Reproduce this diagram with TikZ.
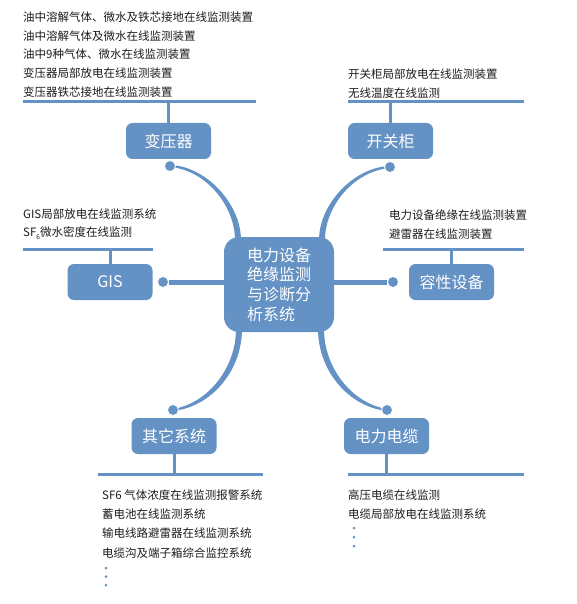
\documentclass[tikz,border=0pt]{standalone}
\usepackage{fontspec}
\setmainfont{Noto Sans CJK SC}
\usetikzlibrary{calc}
\definecolor{bluec}{RGB}{100,146,196}
\definecolor{txt}{RGB}{28,28,28}
\pgfdeclarelayer{background}
\pgfsetlayers{background,main}
\begin{document}
\begin{tikzpicture}[x=1pt,y=-1pt,
  box/.style={fill=bluec, rounded corners=6.5pt, minimum width=85pt, minimum height=36pt,
              text=white, font=\fontsize{16}{19}\selectfont, inner sep=0pt},
  hub/.style={fill=bluec, rounded corners=15pt, minimum width=110pt, minimum height=95pt,
              text=white, font=\fontsize{16}{19.7}\selectfont, align=left, inner sep=0pt},
  item/.style={anchor=west, inner sep=0pt, text=txt, font=\fontsize{11.5}{14}\selectfont},
  rail/.style={draw=bluec, line width=3pt},
  stem/.style={draw=bluec, line width=3pt},
  link/.style={draw=bluec, line width=5pt},
  knob/.style={circle, fill=bluec, draw=white, line width=0.8pt, minimum size=11pt, inner sep=0pt},
  taper/.style={fill=bluec}]
\useasboundingbox (0,0) rectangle (577,604);

% hub and branch boxes
\node[hub] (main) at (279,284.5) {电力设备\\绝缘监测\\与诊断分\\析系统};
\node[box] (tr)  at (168.5,141) {变压器};
\node[box] (sw)  at (390.5,141) {开关柜};
\node[box] (cap) at (451.5,282) {容性设备};
\node[box] (gis) at (110,282)   {GIS};
\node[box] (oth) at (174,436)   {其它系统};
\node[box] (cab) at (386.5,436) {电力电缆};

% knobs
\node[knob] (tk) at (170,166) {};
\node[knob] (sk) at (390,167) {};
\node[knob] (gk) at (163,282) {};
\node[knob] (ck) at (393,282) {};
\node[knob] (ok) at (173,410) {};
\node[knob] (bk) at (387,410) {};

% curve ends on the hub
\coordinate (m1) at (238,240);
\coordinate (m2) at (322,240);
\coordinate (m3) at (239,329);
\coordinate (m4) at (321,329);

\begin{pgfonlayer}{background}
  % tapered curves
  \fill[taper] ($(tk)+(0,-1)$) .. controls ($(tk)+(36,0)$) and ($(m1)+(3,-36)$) .. ($(m1)+(3,0)$)
     -- ($(m1)+(-3,0)$) .. controls ($(m1)+(-3,-34)$) and ($(tk)+(36,4)$) .. ($(tk)+(0,1)$) -- cycle;
  \fill[taper] ($(sk)+(0,-1)$) .. controls ($(sk)+(-36,0)$) and ($(m2)+(-3,-36)$) .. ($(m2)+(-3,0)$)
     -- ($(m2)+(3,0)$) .. controls ($(m2)+(3,-34)$) and ($(sk)+(-36,4)$) .. ($(sk)+(0,1)$) -- cycle;
  \fill[taper] ($(m3)+(-3,0)$) .. controls ($(m3)+(-3,38)$) and ($(ok)+(36,-7)$) .. ($(ok)+(0,-1)$)
     -- ($(ok)+(0,1)$) .. controls ($(ok)+(38,-3)$) and ($(m3)+(3,42)$) .. ($(m3)+(3,0)$) -- cycle;
  \fill[taper] ($(m4)+(3,0)$) .. controls ($(m4)+(3,38)$) and ($(bk)+(-36,-7)$) .. ($(bk)+(0,-1)$)
     -- ($(bk)+(0,1)$) .. controls ($(bk)+(-38,-3)$) and ($(m4)+(-3,42)$) .. ($(m4)+(-3,0)$) -- cycle;
  % straight links
  \draw[link] (gk) -- (gk -| main.center);
  \draw[link] (ck) -- (ck -| main.center);
\end{pgfonlayer}

% rails
\coordinate (r1a) at (23,102);  \coordinate (r1b) at (256,102);
\coordinate (r2a) at (348,102); \coordinate (r2b) at (524,102);
\coordinate (r3a) at (383,249); \coordinate (r3b) at (524,249);
\coordinate (r4a) at (23,249);  \coordinate (r4b) at (153,249);
\coordinate (r5a) at (98,474);  \coordinate (r5b) at (263,474);
\coordinate (r6a) at (348,474); \coordinate (r6b) at (524,474);
\draw[rail] (r1a) -- (r1b);
\draw[rail] (r2a) -- (r2b);
\draw[rail] (r3a) -- (r3b);
\draw[rail] (r4a) -- (r4b);
\draw[rail] (r5a) -- (r5b);
\draw[rail] (r6a) -- (r6b);
\draw[stem] (tr.north) -- (tr.north |- r1a);
\draw[stem] (sw.north) -- (sw.north |- r2a);
\draw[stem] (cap.north) -- (cap.north |- r3a);
\draw[stem] (gis.north) -- (gis.north |- r4a);
\draw[stem] (oth.south) -- (oth.south |- r5a);
\draw[stem] (cab.south) -- (cab.south |- r6a);

% item lists
\node[item] (a1) at (23,17) {油中溶解气体、微水及铁芯接地在线监测装置};
\node[item] (a2) at (23,36) {油中溶解气体及微水在线监测装置};
\node[item] (a3) at (23,54.5) {油中9种气体、微水在线监测装置};
\node[item] (a4) at (23,73) {变压器局部放电在线监测装置};
\node[item] (a5) at (23,92) {变压器铁芯接地在线监测装置};

\node[item] (b1) at (348,74) {开关柜局部放电在线监测装置};
\node[item] (b2) at (348,93) {无线温度在线监测};

\node[item] (c1) at (389,215) {电力设备绝缘在线监测装置};
\node[item] (c2) at (389,234) {避雷器在线监测装置};

\node[item] (g1) at (23,214) {GIS局部放电在线监测系统};
\node[item] (g2) at (23,233) {SF\raisebox{-2.5pt}{\fontsize{6.5}{7}\selectfont 6}微水密度在线监测};

\node[item] (o1) at (102,495) {SF6 气体浓度在线监测报警系统};
\node[item] (o2) at (102,514) {蓄电池在线监测系统};
\node[item] (o3) at (102,533) {输电线路避雷器在线监测系统};
\node[item] (o4) at (102,553) {电缆沟及端子箱综合监控系统};

\node[item] (e1) at (348,495) {高压电缆在线监测};
\node[item] (e2) at (348,514) {电缆局部放电在线监测系统};

% continuation dots
\coordinate (od1) at (106,568); \coordinate (od2) at (106,576.5); \coordinate (od3) at (106,585);
\coordinate (ed1) at (354,528); \coordinate (ed2) at (354,537); \coordinate (ed3) at (354,546);
\foreach \p in {od1,od2,od3,ed1,ed2,ed3} \fill[bluec] (\p) circle (1.5);
\end{tikzpicture}
\end{document}
